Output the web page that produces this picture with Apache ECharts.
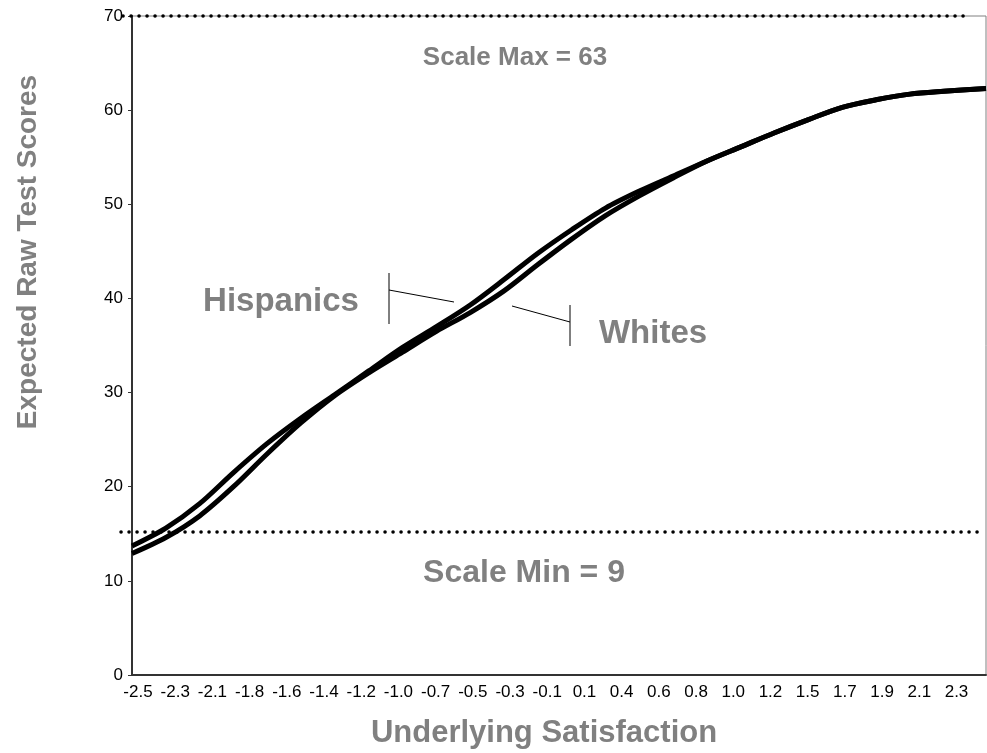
<!DOCTYPE html>
<html><head><meta charset="utf-8">
<script src="https://cdn.jsdelivr.net/npm/echarts@6/dist/echarts.min.js"></script>
<style>html,body{margin:0;padding:0;background:#fff}#c{width:987px;height:753px}</style>
</head><body><div id="c"></div>
<script>
// ---- data ----
const satisfaction = [-2.5,-2.3,-2.1,-1.9,-1.7,-1.5,-1.3,-1.1,-0.9,-0.7,-0.5,-0.3,-0.1,0.1,0.3,0.5,0.7,0.9,1.1,1.3,1.5,1.7,1.9,2.1,2.3,2.55];
const hispanics = [13.7,15.6,18.2,21.5,24.6,27.3,29.8,32.3,34.8,37.0,39.3,42.0,44.8,47.3,49.6,51.4,53.0,54.6,56.1,57.6,59.0,60.3,61.1,61.7,62.0,62.3];
const whites    = [12.9,14.6,16.9,20.0,23.5,26.8,29.7,32.1,34.3,36.5,38.5,40.8,43.6,46.3,48.8,50.9,52.8,54.6,56.1,57.6,59.0,60.3,61.1,61.7,62.0,62.3];
const xTickLabels = ['-2.5','-2.3','-2.1','-1.8','-1.6','-1.4','-1.2','-1.0','-0.7','-0.5','-0.3','-0.1','0.1','0.4','0.6','0.8','1.0','1.2','1.5','1.7','1.9','2.1','2.3'];
const scaleMaxLine = 70;
const scaleMinLine = 15.2;

// x positions on the axis: hundredths of a unit from -2.5
const toAxis = x => Math.round((x + 2.5) * 100);
const pairs = ys => satisfaction.map((x, i) => [toAxis(x), ys[i]]);

const FONT = "'Liberation Sans', Arial, sans-serif";
const GRAY = '#808080';

const chart = echarts.init(document.getElementById('c'), null, {renderer: 'canvas'});
chart.setOption({
  animation: false,
  backgroundColor: '#fff',
  grid: {left: 132, right: 1, top: 16, bottom: 78, show: true, borderColor: GRAY, borderWidth: 1,
         containLabel: false, outerBoundsMode: 'none'},
  xAxis: {
    type: 'value', min: 0, max: 505, interval: 22,
    axisLine: {show: true, onZero: false, lineStyle: {color: '#333', width: 2}},
    axisTick: {show: false},
    splitLine: {show: false},
    axisLabel: {
      color: '#000', fontFamily: FONT, fontSize: 17, margin: 9, padding: [0, 0, 0, 12],
      showMaxLabel: false,
      formatter: v => (v % 22 === 0 && xTickLabels[v / 22] !== undefined) ? xTickLabels[v / 22] : ''
    }
  },
  yAxis: {
    type: 'value', min: 0, max: 70, interval: 10,
    axisLine: {show: true, lineStyle: {color: '#333', width: 2}},
    axisTick: {show: true, length: 4, lineStyle: {color: '#333', width: 1}},
    splitLine: {show: false},
    axisLabel: {color: '#000', fontFamily: FONT, fontSize: 17, margin: 9}
  },
  series: [
    {name: 'Hispanics', type: 'line', data: pairs(hispanics), smooth: 0.3, showSymbol: false,
     lineStyle: {color: '#000', width: 5}},
    {name: 'Whites', type: 'line', data: pairs(whites), smooth: 0.3, showSymbol: false,
     lineStyle: {color: '#000', width: 5}}
  ]
});

const yMax = chart.convertToPixel({yAxisIndex: 0}, scaleMaxLine);
const yMin = chart.convertToPixel({yAxisIndex: 0}, scaleMinLine);
const dotted = {stroke: '#000', lineWidth: 3.5, lineDash: [0.1, 7.9], lineCap: 'round'};
const thin = {stroke: '#000', lineWidth: 1};
const txt = (text, x, y, size) => ({type: 'text', x, y, z: 100,
  style: {text, fill: GRAY, font: `bold ${size}px ${FONT}`, align: 'center', verticalAlign: 'middle',
          textAlign: 'center', textVerticalAlign: 'middle'}});

chart.setOption({graphic: [
  {type: 'line', z: 100, shape: {x1: 123, y1: yMax, x2: 970, y2: yMax}, style: dotted},
  {type: 'line', z: 100, shape: {x1: 121, y1: yMin, x2: 982, y2: yMin}, style: dotted},
  txt('Scale Max = 63', 515, 58, 26),
  txt('Scale Min = 9', 524, 573, 32),
  txt('Hispanics', 281, 302, 33),
  txt('Whites', 653, 334, 33),
  {type: 'line', z: 100, shape: {x1: 389, y1: 273, x2: 389, y2: 324}, style: thin},
  {type: 'line', z: 100, shape: {x1: 389, y1: 290, x2: 454, y2: 302}, style: thin},
  {type: 'line', z: 100, shape: {x1: 570, y1: 305, x2: 570, y2: 346}, style: thin},
  {type: 'line', z: 100, shape: {x1: 512, y1: 306, x2: 570, y2: 322}, style: thin},
  txt('Underlying Satisfaction', 544, 733, 31),
  Object.assign(txt('Expected Raw Test Scores', 28, 252, 28), {rotation: Math.PI / 2})
]});
</script>
</body></html>
